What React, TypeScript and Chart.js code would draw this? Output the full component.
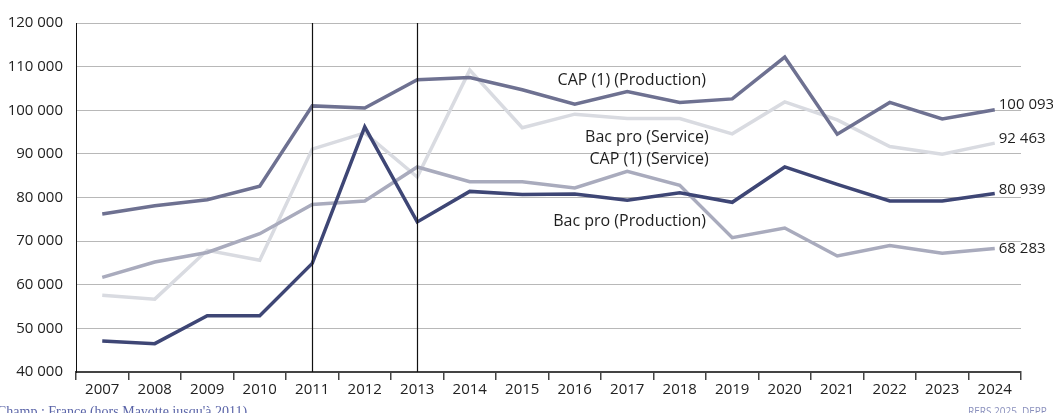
import React, { useEffect, useRef } from "react";
import { Chart, registerables } from "chart.js";

Chart.register(...registerables);

const years = ["2007","2008","2009","2010","2011","2012","2013","2014","2015","2016","2017","2018","2019","2020","2021","2022","2023","2024"];
const capProduction = [76200, 78100, 79500, 82600, 101000, 100500, 107000, 107500, 104700, 101400, 104300, 101800, 102600, 112200, 94500, 101800, 98000, 100093];
const bacProService = [57600, 56700, 67900, 65600, 91100, 94800, 84700, 109200, 96000, 99100, 98100, 98100, 94600, 101900, 97800, 91700, 89900, 92463];
const capService = [61700, 65200, 67400, 71700, 78400, 79200, 87000, 83600, 83600, 82200, 86000, 82800, 70800, 73000, 66600, 69000, 67200, 68283];
const bacProProduction = [47100, 46500, 52900, 52900, 64900, 96200, 74400, 81400, 80700, 80800, 79400, 81100, 78900, 87000, 83000, 79200, 79200, 80939];
const yTicks = [40000, 50000, 60000, 70000, 80000, 90000, 100000, 110000, 120000];
const markerYears = ["2011", "2013"];

const fmt = (v: number) => String(v).replace(/\B(?=(\d{3})+(?!\d))/g, " ");
const FONT = "'Open Sans', sans-serif";

const annotations = [
  { text: "CAP (1) (Production)", x: 11.5, y: 106800 },
  { text: "Bac pro (Service)", x: 11.55, y: 93850 },
  { text: "CAP (1) (Service)", x: 11.55, y: 88800 },
  { text: "Bac pro (Production)", x: 11.5, y: 74600 },
];

const endLabels = [
  { value: capProduction[17], y: 101300 },
  { value: bacProService[17], y: 93400 },
  { value: bacProProduction[17], y: 81700 },
  { value: capService[17], y: 68150 },
];

const overlay = {
  id: "overlay",
  afterDatasetsDraw(chart: any) {
    const { ctx, chartArea, scales } = chart;
    const xs = scales.x;
    const ys = scales.y;
    ctx.save();
    ctx.strokeStyle = "#111";
    ctx.lineWidth = 1.2;
    markerYears.forEach((yr) => {
      const px = Math.round(xs.getPixelForValue(years.indexOf(yr))) + 0.5;
      ctx.beginPath();
      ctx.moveTo(px, chartArea.top);
      ctx.lineTo(px, chartArea.bottom);
      ctx.stroke();
    });
    ctx.fillStyle = "#1e1e1e";
    ctx.textBaseline = "middle";
    ctx.font = `16px ${FONT}`;
    ctx.textAlign = "right";
    annotations.forEach((a) => {
      const px = xs.getPixelForValue(0) + (xs.getPixelForValue(1) - xs.getPixelForValue(0)) * a.x;
      ctx.fillText(a.text, px, ys.getPixelForValue(a.y));
    });
    ctx.font = `15px ${FONT}`;
    ctx.textAlign = "left";
    endLabels.forEach((l) => {
      ctx.fillText(fmt(l.value), xs.getPixelForValue(17) + 4, ys.getPixelForValue(l.y));
    });
    ctx.restore();
  },
};

export default function App() {
  const ref = useRef<HTMLCanvasElement>(null);
  useEffect(() => {
    if (!ref.current) return;
    const line = (label: string, data: number[], color: string) => ({
      label,
      data,
      borderColor: color,
      backgroundColor: color,
      borderWidth: 3.5,
      pointRadius: 0,
      tension: 0,
      fill: false,
    });
    const chart = new Chart(ref.current, {
      type: "line",
      data: {
        labels: years,
        datasets: [
          line("Bac pro (Production)", bacProProduction, "#3e4675"),
          line("CAP (1) (Production)", capProduction, "#6e7191"),
          line("CAP (1) (Service)", capService, "#a9abbd"),
          line("Bac pro (Service)", bacProService, "#d9dbe1"),
        ],
      },
      options: {
        responsive: false,
        animation: false,
        layout: { padding: { left: 0, right: 32, top: 23, bottom: 0 } },
        plugins: { legend: { display: false }, tooltip: { enabled: false }, title: { display: false } },
        scales: {
          x: {
            type: "category",
            offset: true,
            grid: { offset: true, drawOnChartArea: false, drawTicks: true, tickLength: 8, color: "#444", lineWidth: 1.5 },
            border: { display: true, color: "#444", width: 2 },
            ticks: { font: { family: FONT, size: 15 }, color: "#222", padding: 1, maxRotation: 0, autoSkip: false },
            afterFit: (s: any) => { s.height = 41; },
          },
          y: {
            min: 40000,
            max: 120000,
            afterBuildTicks: (s: any) => { s.ticks = yTicks.map((v) => ({ value: v })); },
            grid: { color: "#b8b8b8", lineWidth: 1, drawTicks: false },
            border: { display: true, color: "#111", width: 1 },
            ticks: { font: { family: FONT, size: 15 }, color: "#222", padding: 13, callback: (v: any) => fmt(Number(v)) },
            afterFit: (s: any) => { s.width = 76; },
          },
        },
      },
      plugins: [overlay],
    });
    return () => chart.destroy();
  }, []);
  return (
    <div style={{ position: "absolute", left: 0, top: 0, width: 1053, height: 413, overflow: "hidden", background: "#fff" }}>
      <canvas ref={ref} width={1053} height={413} style={{ position: "absolute", left: 0, top: 0 }} />
      <div style={{ position: "absolute", left: -3, top: 404, whiteSpace: "nowrap", fontFamily: "'Liberation Serif', serif", fontSize: 14, color: "#5a64a8" }}>
        Champ : France (hors Mayotte jusqu'à 2011)
      </div>
      <div style={{ position: "absolute", left: 968, top: 404, whiteSpace: "nowrap", fontFamily: FONT, fontSize: 10, color: "#8a90bd" }}>
        RERS 2025, DEPP
      </div>
    </div>
  );
}
